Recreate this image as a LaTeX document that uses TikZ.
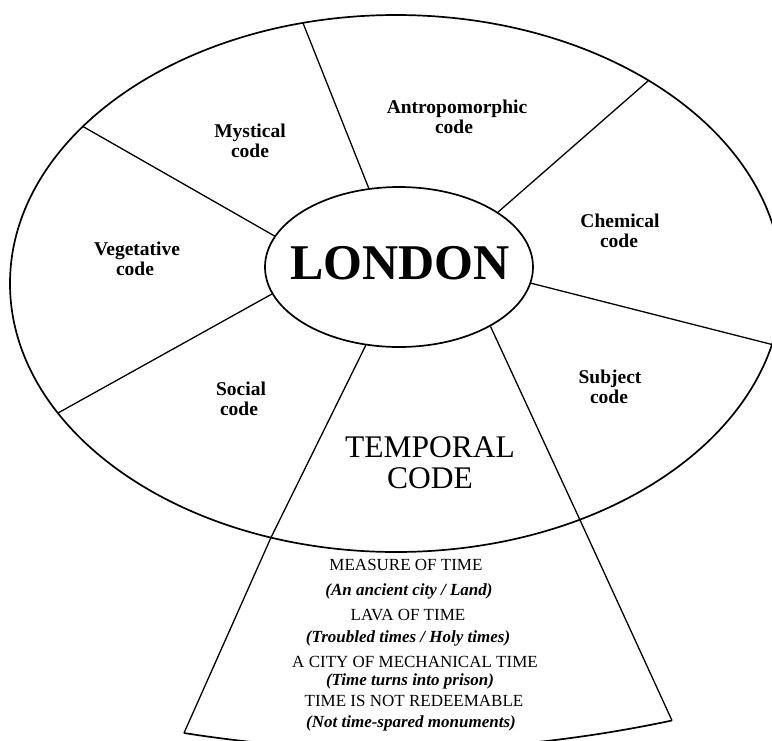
\documentclass[tikz,border=0pt]{standalone}
\usepackage{fontspec}
\setmainfont{Liberation Serif}
\usetikzlibrary{shapes.geometric}
\tikzset{
  ring/.style={line width=1.7pt},
  spoke/.style={line width=1.3pt},
  hub/.style={draw, ring, ellipse, minimum width=268, minimum height=160, inner sep=0pt},
  hubtext/.style={anchor=base, inner sep=0pt, font=\bfseries\fontsize{50}{50}\selectfont},
  codelabel/.style={anchor=base, inner sep=0pt, font=\bfseries\fontsize{19.5}{20}\selectfont},
  temporal/.style={anchor=base, inner sep=0pt, font=\fontsize{31.5}{32}\selectfont},
  capsline/.style={anchor=base, inner sep=0pt, font=\fontsize{17}{18}\selectfont},
  noteline/.style={anchor=base, inner sep=0pt, font=\bfseries\itshape\fontsize{17}{18}\selectfont},
}
\begin{document}
\begin{tikzpicture}[x=1pt,y=-1pt]
\useasboundingbox (0,0) rectangle (772,740);
\fill[white] (0,0) rectangle (772,740);
% outer ring
\draw[ring] (396,283.5) ellipse [x radius=386, y radius=268.5];
% hub
\node[hub] (london) at (399,267) {};
\node[hubtext] (londontxt) at (400,279) {LONDON};
% points on the outer ring
\coordinate (o1) at (303,23);
\coordinate (o2) at (648,81);
\coordinate (o3) at (772,344.5);
\coordinate (o4) at (580,520);
\coordinate (o5) at (271,537.5);
\coordinate (o6) at (58,413);
\coordinate (o7) at (83,126.5);
\coordinate (bl) at (184,733);
\coordinate (br) at (672,720.5);
% spokes
\draw[spoke] (london.111.4) -- (o1);
\draw[spoke] (london.29.1) -- (o2);
\draw[spoke] (london.-7.8) -- (o3);
\draw[spoke] (london.-33.1) -- (o4) -- (br);
\draw[spoke] (london.247.7) -- (o5) -- (bl);
\draw[spoke] (london.192) -- (o6);
\draw[spoke] (london.166.6) -- (o7);
\draw[ring] (bl) .. controls (348.5,758.9) and (510.5,754.7) .. (br);
% labels
\node[codelabel] (myst1) at (250,137) {Mystical};
\node[codelabel] (myst2) at (250,157) {code};
\node[codelabel] (veg1) at (137,255) {Vegetative};
\node[codelabel] (veg2) at (135,275) {code};
\node[codelabel] (antro1) at (457,113) {Antropomorphic};
\node[codelabel] (antro2) at (454,133) {code};
\node[codelabel] (chem1) at (620,227) {Chemical};
\node[codelabel] (chem2) at (619,247) {code};
\node[codelabel] (soc1) at (241,395) {Social};
\node[codelabel] (soc2) at (239,415) {code};
\node[codelabel] (subj1) at (610,383) {Subject};
\node[codelabel] (subj2) at (609,403) {code};
\node[temporal] (temp1) at (430,457) {TEMPORAL};
\node[temporal] (temp2) at (430,488) {CODE};
% temporal list
\node[capsline] (m1) at (406,570) {MEASURE OF TIME};
\node[noteline] (m2) at (409,595) {(An ancient city / Land)};
\node[capsline] (m3) at (408,620) {LAVA OF TIME};
\node[noteline] (m4) at (408,642) {(Troubled times / Holy times)};
\node[capsline] (m5) at (415,667) {A CITY OF MECHANICAL TIME};
\node[noteline] (m6) at (410,685) {(Time turns into prison)};
\node[capsline] (m7) at (414,706) {TIME IS NOT REDEEMABLE};
\node[noteline] (m8) at (411,727) {(Not time-spared monuments)};
\end{tikzpicture}
\end{document}
